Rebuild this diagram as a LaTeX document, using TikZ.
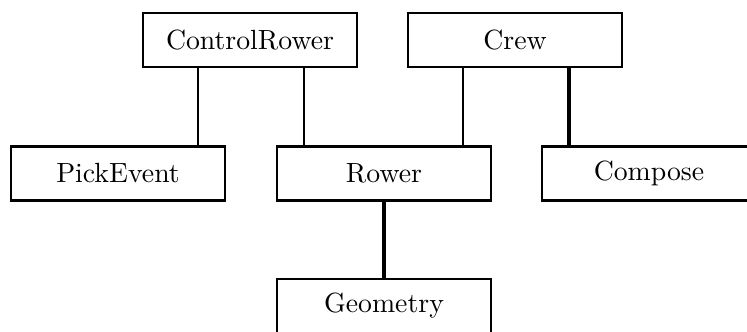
\documentclass[tikz,border=0pt]{standalone}
\usetikzlibrary{calc}

\begin{document}
\begin{tikzpicture}[x=0.36pt,y=-0.36pt]
\tikzstyle{every node} = [draw, shape=rectangle, line width=0.95pt, minimum width=77pt, minimum height=19.4pt, inner sep=2pt]
\tikzstyle{link} = [-, line width=0.95pt]
\tikzstyle{thicklink} = [-, line width=1.15pt]
\useasboundingbox (0,0) rectangle (747,331);

\node (crow) at (250, 40) {ControlRower};
\node (crew) at (515, 40) {Crew};

\node (pick) at (118, 173.5) {PickEvent};
\node (rower) at (384, 173.5) {Rower};
\node (comp) at (649, 173.5) {Compose};

\node (geom) at (384, 306) {Geometry};

\coordinate (crl) at ($(crow.south)+(-52,0)$);
\coordinate (crr) at ($(crow.south)+(54,0)$);
\coordinate (cwl) at ($(crew.south)+(-52,0)$);
\coordinate (cwr) at ($(crew.south)+(54,0)$);

\draw [link] (crl) -- (crl |- pick.north);
\draw [link] (crr) -- (crr |- rower.north);
\draw [link] (cwl) -- (cwl |- rower.north);
\draw [thicklink] (cwr) -- (cwr |- comp.north);
\draw [thicklink] (rower.south) -- (geom.north);

\end{tikzpicture}
\end{document}
